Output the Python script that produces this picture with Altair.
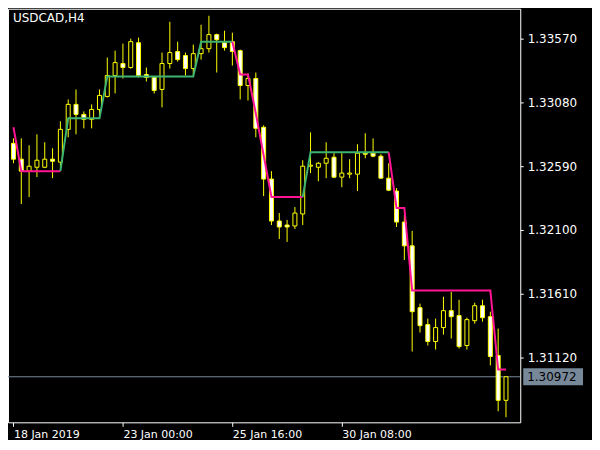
import altair as alt
import pandas as pd

symbol_title = "USDCAD,H4"

opens = [1.32766, 1.32644, 1.32552, 1.32582, 1.32582, 1.32644, 1.32621, 1.32873, 1.33065, 1.32988,
         1.32950, 1.33026, 1.33126, 1.33287, 1.33379, 1.33348, 1.33539, 1.33294, 1.33272, 1.33180,
         1.33379, 1.33471, 1.33440, 1.33340, 1.33455, 1.33493, 1.33601, 1.33539, 1.33547, 1.33478,
         1.33210, 1.33264, 1.32889, 1.32491, 1.32169, 1.32138, 1.32131, 1.32223, 1.32590, 1.32582,
         1.32613, 1.32659, 1.32506, 1.32529, 1.32529, 1.32690, 1.32690, 1.32667, 1.32498, 1.32399,
         1.32161, 1.31978, 1.31503, 1.31373, 1.31243, 1.31350, 1.31480, 1.31442, 1.31212, 1.31403,
         1.31518, 1.31434, 1.31136, 1.30791]
highs = [1.32804, 1.32804, 1.32751, 1.32835, 1.32774, 1.32728, 1.32935, 1.33103, 1.33180, 1.33011,
         1.33065, 1.33180, 1.33425, 1.33478, 1.33532, 1.33570, 1.33578, 1.33348, 1.33279, 1.33463,
         1.33700, 1.33547, 1.33463, 1.33524, 1.33677, 1.33746, 1.33608, 1.33631, 1.33616, 1.33486,
         1.33302, 1.33310, 1.32904, 1.32552, 1.32230, 1.32177, 1.32276, 1.32636, 1.32850, 1.32621,
         1.32774, 1.32690, 1.32690, 1.32644, 1.32759, 1.32843, 1.32804, 1.32682, 1.32613, 1.32422,
         1.32215, 1.32093, 1.31534, 1.31419, 1.31419, 1.31587, 1.31625, 1.31564, 1.31426, 1.31541,
         1.31564, 1.31472, 1.31342, 1.30972]
lows = [1.32613, 1.32299, 1.32353, 1.32506, 1.32575, 1.32498, 1.32582, 1.32812, 1.32835, 1.32881,
        1.32881, 1.32965, 1.33118, 1.33149, 1.33264, 1.33340, 1.33272, 1.33241, 1.33149, 1.33042,
        1.33340, 1.33394, 1.33287, 1.33287, 1.33409, 1.33463, 1.33310, 1.33478, 1.33363, 1.33103,
        1.33095, 1.32812, 1.32360, 1.32138, 1.32031, 1.32008, 1.32108, 1.32138, 1.32537, 1.32475,
        1.32498, 1.32498, 1.32429, 1.32498, 1.32399, 1.32651, 1.32659, 1.32498, 1.32399, 1.32123,
        1.31870, 1.31166, 1.31312, 1.31212, 1.31181, 1.31296, 1.31266, 1.31189, 1.31181, 1.31380,
        1.31396, 1.31059, 1.30707, 1.30661]
closes = [1.32644, 1.32552, 1.32590, 1.32636, 1.32644, 1.32628, 1.32873, 1.33065, 1.32988, 1.32950,
          1.33026, 1.33134, 1.33287, 1.33386, 1.33348, 1.33547, 1.33287, 1.33272, 1.33172, 1.33379,
          1.33463, 1.33409, 1.33340, 1.33455, 1.33493, 1.33601, 1.33562, 1.33501, 1.33471, 1.33210,
          1.33264, 1.32881, 1.32491, 1.32169, 1.32123, 1.32123, 1.32230, 1.32590, 1.32598, 1.32613,
          1.32651, 1.32506, 1.32537, 1.32537, 1.32690, 1.32682, 1.32667, 1.32498, 1.32406, 1.32161,
          1.31978, 1.31472, 1.31365, 1.31243, 1.31350, 1.31480, 1.31434, 1.31204, 1.31411, 1.31518,
          1.31426, 1.31128, 1.30791, 1.30972]

# stepped trend line value at each bar
trend_line = [1.32889, 1.32552, 1.32552, 1.32552, 1.32552, 1.32552, 1.32552,
              1.32958, 1.32958, 1.32958, 1.32958, 1.32958,
              1.33279, 1.33279, 1.33279, 1.33279, 1.33279, 1.33279, 1.33279, 1.33279,
              1.33279, 1.33279, 1.33279, 1.33279,
              1.33547, 1.33547, 1.33547, 1.33547, 1.33547,
              1.33294, 1.33294, 1.32996, 1.32674,
              1.32353, 1.32353, 1.32353, 1.32353, 1.32353,
              1.32697, 1.32697, 1.32697, 1.32697, 1.32697, 1.32697, 1.32697, 1.32697,
              1.32697, 1.32697, 1.32697,
              1.32269, 1.32269,
              1.31634, 1.31634, 1.31634, 1.31634, 1.31634, 1.31634, 1.31634, 1.31634,
              1.31634, 1.31634, 1.31634,
              1.31028, 1.31028]
# (trend, first bar, last bar)
trend_segments = [("down", 0, 6), ("up", 6, 28), ("down", 28, 37), ("up", 37, 48), ("down", 48, 63)]

tick_bars = [0, 14, 28, 42]
tick_labels = ["18 Jan 2019", "23 Jan 00:00", "25 Jan 16:00", "30 Jan 08:00"]
price_ticks = [1.31120, 1.31610, 1.32100, 1.32590, 1.33080, 1.33570]
last_price = 1.30972

n = len(opens)
candles = pd.DataFrame({
    "i": list(range(n)), "open": opens, "high": highs, "low": lows, "close": closes,
})
candles["dir"] = ["up" if c >= o else "down" for o, c in zip(opens, closes)]

rows = []
for s, (tr, a, b) in enumerate(trend_segments):
    for i in range(a, b + 1):
        rows.append({"i": i, "v": trend_line[i], "trend": tr, "seg": s})
line_df = pd.DataFrame(rows)

last_df = pd.DataFrame({"p": [last_price], "label": [f"{last_price:.5f}"]})

FONT = "DejaVu Sans"
WHITE = "#FFFFFF"
YELLOW = "#FFFF00"

xs = alt.Scale(domain=[-0.0625, 64.1875], nice=False, zero=False)
ys = alt.Scale(domain=[1.30622, 1.33800], nice=False, zero=False)

label_expr = " : ".join(
    f"datum.value == {b} ? '{t}'" for b, t in zip(tick_bars, tick_labels)
) + " : ''"

xaxis = alt.Axis(values=tick_bars, labelExpr=label_expr, title=None, grid=False, domain=False,
                 tickSize=4, tickColor=WHITE, labelColor=WHITE, labelFont=FONT, labelFontSize=11,
                 labelAlign="left", labelBaseline="top", labelPadding=2, labelOverlap=False)
yaxis = alt.Axis(orient="right", values=price_ticks, format=".5f", title=None, grid=False,
                 domain=False, tickSize=3, tickColor=WHITE, labelColor=WHITE, labelFont=FONT,
                 labelFontSize=12, labelPadding=4, labelOverlap=False)

hline = alt.Chart(last_df).mark_rule(color="#778899", strokeWidth=1, clip=True).encode(
    y=alt.Y("p:Q", scale=ys, axis=yaxis)
)

wicks = alt.Chart(candles).mark_rule(color=YELLOW, strokeWidth=1, clip=True).encode(
    x=alt.X("i:Q", scale=xs, axis=xaxis),
    y=alt.Y("low:Q", scale=ys),
    y2="high:Q",
)

bodies = alt.Chart(candles).mark_bar(size=4, stroke=YELLOW, strokeWidth=1, clip=True).encode(
    x=alt.X("i:Q", scale=xs),
    y=alt.Y("open:Q", scale=ys),
    y2="close:Q",
    fill=alt.Fill("dir:N", scale=alt.Scale(domain=["up", "down"], range=["#000000", "#FFFFFF"]),
                  legend=None),
)

trend = alt.Chart(line_df).mark_line(strokeWidth=2, clip=True).encode(
    x=alt.X("i:Q", scale=xs),
    y=alt.Y("v:Q", scale=ys),
    color=alt.Color("trend:N", scale=alt.Scale(domain=["up", "down"], range=["#3CB371", "#FF1493"]),
                    legend=None),
    detail="seg:N",
    order="i:Q",
)

price_box = alt.Chart(last_df).mark_rule(color="#778899", strokeWidth=17, strokeCap="butt").encode(
    x=alt.value(517), x2=alt.value(577), y=alt.Y("p:Q", scale=ys)
)
price_text = alt.Chart(last_df).mark_text(align="left", baseline="middle", color="#000000",
                                          font=FONT, fontSize=12).encode(
    x=alt.value(521), y=alt.Y("p:Q", scale=ys), text="label:N"
)

title = alt.Chart(pd.DataFrame({"t": [symbol_title]})).mark_text(
    align="left", baseline="alphabetic", color=WHITE, font=FONT, fontSize=12
).encode(x=alt.value(5), y=alt.value(13), text="t:N")

chart = alt.layer(hline, wicks, bodies, trend, price_box, price_text, title).resolve_scale(
    color="independent"
).properties(
    width=514, height=415, padding={"left": 0, "top": 0, "right": 0, "bottom": 0}
).configure(background="#000000").configure_view(stroke=WHITE, strokeWidth=1)

chart.save("out.html", embed_options={"renderer": "svg", "actions": False})
